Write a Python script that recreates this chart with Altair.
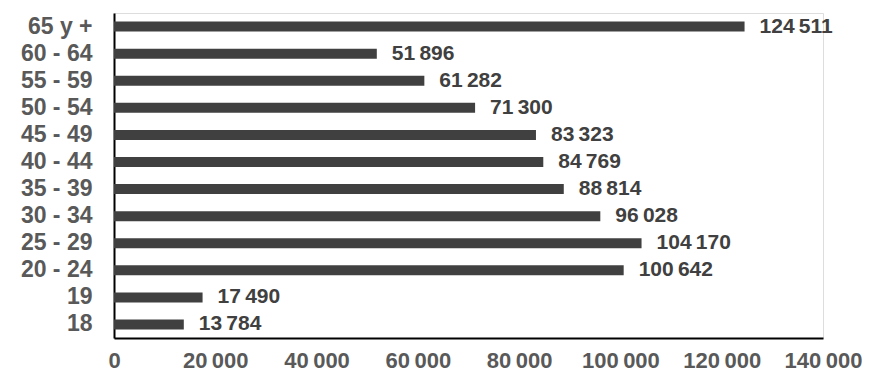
import altair as alt
import pandas as pd

groups = ["65 y +", "60 - 64", "55 - 59", "50 - 54", "45 - 49", "40 - 44",
          "35 - 39", "30 - 34", "25 - 29", "20 - 24", "19", "18"]
values = [124511, 51896, 61282, 71300, 83323, 84769,
          88814, 96028, 104170, 100642, 17490, 13784]

def fmt(v):
    s = f"{v:,}"
    return s.replace(",", "\u2009")

df = pd.DataFrame({"group": groups, "value": values,
                   "label": [fmt(v) for v in values]})

FONT = "Liberation Sans"

base = alt.Chart(df).encode(
    y=alt.Y("group:N", sort=groups, title=None,
            axis=alt.Axis(domain=True, domainColor="#000000", domainWidth=2,
                          ticks=False, labelFont=FONT, labelFontSize=23,
                          labelFontWeight="bold", labelColor="#595959",
                          labelPadding=22, labelAlign="right")),
    x=alt.X("value:Q", title=None,
            scale=alt.Scale(domain=[0, 140000], nice=False),
            axis=alt.Axis(values=[0, 20000, 40000, 60000, 80000, 100000, 120000, 140000],
                          labelExpr="replace(format(datum.value, ','), ',', '\u2009')",
                          domain=True, domainColor="#000000", domainWidth=2,
                          ticks=False, grid=False, labelFont=FONT, labelFontSize=22,
                          labelFontWeight="bold", labelColor="#595959",
                          labelPadding=12, labelFlush=False)),
)

bars = base.mark_bar(color="#404040", size=10)
text = base.mark_text(align="left", baseline="middle", dx=15, font=FONT,
                      fontSize=21, fontWeight="bold", color="#404040").encode(
    text="label:N")

chart = (bars + text).properties(
    width=709, height=325,
    autosize=alt.AutoSizeParams(type="none"),
    padding={"left": 106, "top": 5, "right": 57, "bottom": 38},
).configure_view(stroke=None).configure(background="white")

chart.save("out.html", embed_options={"renderer": "svg", "actions": False})
